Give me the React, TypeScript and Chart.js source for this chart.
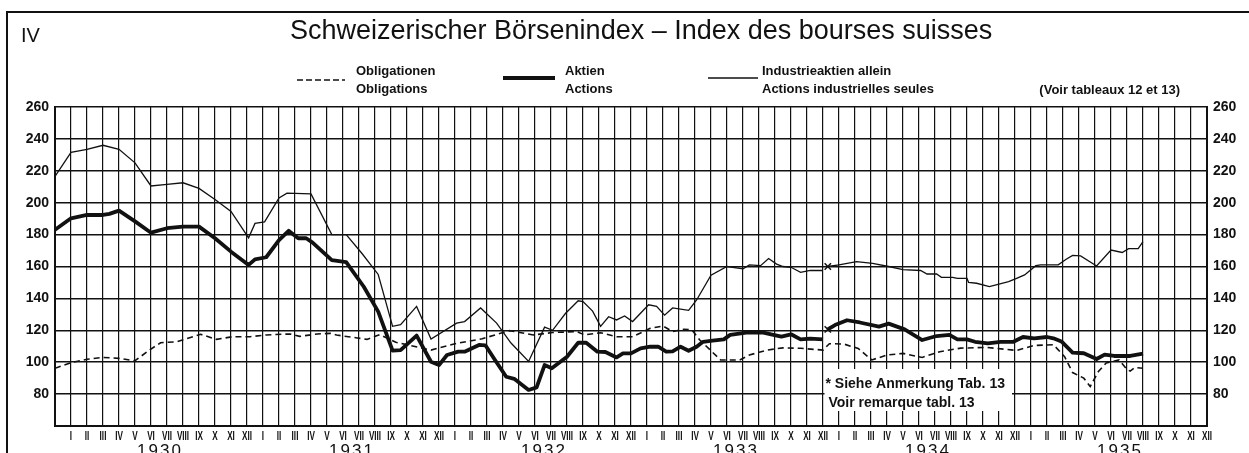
import React, { useEffect, useRef } from 'react';
import { Chart, registerables } from 'chart.js';

Chart.register(...registerables);

// ---- labels ----
const monthLabels = ['I', 'II', 'III', 'IV', 'V', 'VI', 'VII', 'VIII', 'IX', 'X', 'XI', 'XII'];
const yearLabels = ['1930', '1931', '1932', '1933', '1934', '1935'];
const titleText = 'Schweizerischer Börsenindex – Index des bourses suisses';
const sectionLabel = 'IV';
const legendObligDe = 'Obligationen';
const legendObligFr = 'Obligations';
const legendAktienDe = 'Aktien';
const legendAktienFr = 'Actions';
const legendIndDe = 'Industrieaktien allein';
const legendIndFr = 'Actions industrielles seules';
const sourceNote = '(Voir tableaux 12 et 13)';
const footNoteDe = '* Siehe Anmerkung Tab. 13';
const footNoteFr = 'Voir remarque tabl. 13';

// ---- data (time = months since end of 1929; null = series break, see note) ----
const industrieMonth = [0, 1, 2, 3, 4, 5, 6, 7, 8, 9, 10, 11, 12.1, 12.5, 13.1, 14, 14.5, 16, 17.3, 18.2, 19.2, 20.2, 21.1, 21.6, 22.6, 23.5, 25.1, 25.6, 26.6, 27.6, 28.5, 29.6, 30.6, 31.1, 31.9, 32.7, 33, 33.6, 34.1, 34.6, 35.1, 35.6, 36.1, 37.1, 37.6, 38.1, 38.6, 39.6, 40.1, 41, 42, 43, 43.4, 44.1, 44.6, 45.1, 45.5, 46, 46.6, 47.2, 48, 48.15, 48.3, 49, 50.1, 51.1, 52.1, 53, 54.1, 54.5, 55.1, 55.4, 56.1, 56.4, 57, 57.1, 57.6, 58.4, 59.6, 60.1, 60.6, 61.3, 61.6, 62.7, 63.2, 63.6, 64.1, 65.1, 66, 66.7, 67.1, 67.7, 68];
const industrieValue = [216.5, 231.5, 233.5, 236, 233.5, 225, 210.5, 211.5, 212.5, 209, 202, 194.5, 178, 187, 188, 203, 206, 205.5, 180, 180, 168, 155, 122.5, 123.5, 135, 114.5, 124.5, 125.5, 134, 124.5, 112, 100.5, 122, 120, 130.5, 138.5, 138, 132, 122.5, 128.5, 126.5, 129, 125.5, 136, 135, 129.5, 134, 132.5, 139, 154.5, 160, 158.5, 161, 160.5, 165, 161.5, 160, 159.5, 156.3, 157.5, 157.5, null, 160, 161, 163, 162, 160, 158, 157.5, 155.3, 155.3, 153.2, 153.2, 152.5, 152.5, 150, 149.5, 147.4, 150.5, 152.6, 154.7, 160.5, 161, 161, 164.5, 167, 166.6, 160.3, 170.3, 168.8, 171.2, 171.2, 175.6];

const aktienMonth = [0, 1, 2, 3, 3.4, 4, 5, 6, 7, 8, 9, 10, 11, 12.1, 12.5, 13.2, 14, 14.6, 15.2, 15.7, 16.1, 17.3, 18.2, 19.3, 20.2, 21.1, 21.6, 22.6, 23.5, 24, 24.5, 25.2, 25.6, 26.5, 26.9, 27.5, 28.2, 28.7, 29.6, 30.1, 30.6, 31.05, 32, 32.7, 33.2, 33.9, 34.4, 35.1, 35.5, 36, 36.6, 37.2, 37.7, 38.2, 38.6, 39.1, 39.6, 40.1, 40.5, 41.1, 41.8, 42.2, 43.2, 44.2, 44.9, 45.4, 46, 46.6, 47.2, 48, 48.15, 48.3, 48.75, 49.5, 50.3, 51.5, 52.1, 53.1, 54.2, 55.1, 55.9, 56.4, 57, 57.5, 58.3, 59.1, 59.9, 60.5, 61.2, 62, 62.4, 62.9, 63.6, 64.3, 65.1, 65.6, 66.2, 67.2, 68];
const aktienValue = [183, 190.2, 192.3, 192.3, 193, 195, 188.3, 181.2, 184, 185, 185, 177.7, 169.3, 161, 164.5, 165.8, 176.6, 182.4, 177.7, 177.7, 175, 164, 162.7, 147.3, 131.7, 107.3, 107.6, 116.7, 100.3, 98.2, 104.5, 106.6, 106.6, 110.8, 110.6, 101.4, 90.9, 89.6, 82.6, 84.2, 98.2, 96.2, 103.4, 112.2, 112.2, 106.6, 106.4, 103, 105.5, 105.5, 108.7, 109.7, 109.7, 106.6, 106.8, 109.7, 107.2, 109.7, 112.8, 113.5, 114.3, 117.1, 118.5, 118.7, 117.1, 116, 117.5, 114.3, 114.8, 114.3, null, 120.6, 123.3, 126.3, 124.9, 122.3, 124.2, 120.6, 113.9, 116.4, 117.1, 114.3, 114.3, 112.8, 111.8, 112.8, 112.8, 115.8, 115, 115.8, 115, 113, 106, 105.6, 102, 104.8, 103.9, 103.9, 105.3];

const obligMonth = [0, 1, 2, 3, 4, 5, 5.9, 6.6, 7.6, 9.1, 10.1, 11.1, 12.2, 13.2, 14.7, 15.3, 16.4, 17.2, 17.6, 18.9, 19.5, 20.3, 21.3, 23.5, 25.1, 26.7, 28.4, 29.9, 31.1, 32.6, 33.1, 34.1, 35.1, 36.1, 37.2, 38, 38.6, 39.3, 39.8, 40.3, 41.6, 42.8, 43.4, 44.5, 45.5, 46.6, 48, 48.4, 49.3, 50.2, 51.05, 52, 53, 54.2, 55.3, 56.6, 58.2, 60.1, 61.2, 62.4, 63.1, 63.6, 64.3, 64.7, 65.2, 65.7, 66.5, 67, 67.2, 67.5, 68];
const obligValue = [96.2, 99.7, 101.8, 103, 102.4, 100.9, 107.6, 112.2, 112.8, 117.5, 114.3, 116, 116, 117.1, 117.7, 116.2, 117.7, 118.1, 117, 115.2, 114.3, 117.3, 112.5, 107.6, 111.8, 114.7, 119.8, 117.1, 118.6, 119.2, 117.1, 118.5, 116, 116, 121.2, 122.7, 119.2, 120.6, 120.3, 113.9, 101.4, 101.4, 104.5, 107.6, 109, 108.7, 107.6, 111.6, 111.4, 108.6, 101.4, 104.5, 105.5, 103, 106.6, 108.8, 109.3, 107.4, 110.5, 111, 103.5, 93.5, 90, 84.8, 94, 99.5, 101.4, 95.5, 94.4, 96.7, 96.2];

const INK = '#111';
const SANS = "'Liberation Sans', Arial, sans-serif";

const toPoints = (months: number[], values: (number | null)[]) =>
  months.map((m, i) => ({ x: m, y: values[i] }));

const monthLabelFor = (n: number) => (n > 0 ? monthLabels[(n - 1) % 12] : '');

const decorPlugin = {
  id: 'decor',
  beforeDraw(chart: any) {
    const ctx = chart.ctx;
    ctx.save();
    ctx.fillStyle = '#fff';
    ctx.fillRect(0, 0, chart.width, chart.height);
    // page frame
    ctx.strokeStyle = INK;
    ctx.lineWidth = 2;
    ctx.beginPath();
    ctx.moveTo(7, chart.height);
    ctx.lineTo(7, 12);
    ctx.lineTo(chart.width, 12);
    ctx.stroke();
    ctx.restore();
  },
  beforeDatasetsDraw(chart: any) {
    const ctx = chart.ctx;
    const xs = chart.scales.x;
    const ys = chart.scales.y;
    const x0 = xs.getPixelForValue(48) + 1.5;
    const x1 = xs.getPixelForValue(60) - 3;
    const y0 = ys.getPixelForValue(95.7);
    const y1 = ys.getPixelForValue(69.4);
    ctx.save();
    ctx.fillStyle = '#fff';
    ctx.fillRect(x0, y0, x1 - x0, y1 - y0);
    ctx.fillStyle = INK;
    ctx.font = `bold 14px ${SANS}`;
    ctx.textBaseline = 'alphabetic';
    ctx.textAlign = 'left';
    ctx.fillText(footNoteDe, x0 + 1, y0 + 19);
    ctx.fillText(footNoteFr, x0 + 4, y0 + 38);
    ctx.restore();
  },
  afterDraw(chart: any) {
    const ctx = chart.ctx;
    const xs = chart.scales.x;
    ctx.save();
    ctx.fillStyle = INK;
    ctx.strokeStyle = INK;
    ctx.textBaseline = 'alphabetic';
    // section number + title
    ctx.textAlign = 'left';
    ctx.font = `20px ${SANS}`;
    ctx.fillText(sectionLabel, 21, 42);
    ctx.font = `27px ${SANS}`;
    ctx.fillText(titleText, 290, 39);
    // legend
    ctx.font = `bold 13px ${SANS}`;
    ctx.fillText(legendObligDe, 356, 75);
    ctx.fillText(legendObligFr, 356, 93);
    ctx.fillText(legendAktienDe, 565, 75);
    ctx.fillText(legendAktienFr, 565, 93);
    ctx.fillText(legendIndDe, 762, 75);
    ctx.fillText(legendIndFr, 762, 93);
    ctx.textAlign = 'right';
    ctx.fillText(sourceNote, 1180, 94);
    ctx.textAlign = 'left';
    // legend samples
    ctx.lineCap = 'butt';
    ctx.setLineDash([6, 3]);
    ctx.lineWidth = 1.6;
    ctx.beginPath(); ctx.moveTo(297, 80); ctx.lineTo(345, 80); ctx.stroke();
    ctx.setLineDash([]);
    ctx.lineWidth = 4;
    ctx.beginPath(); ctx.moveTo(503, 78); ctx.lineTo(555, 78); ctx.stroke();
    ctx.lineWidth = 1.3;
    ctx.beginPath(); ctx.moveTo(708, 78); ctx.lineTo(758, 78); ctx.stroke();
    // condensed month labels at the x-scale ticks
    ctx.font = `bold 12px ${SANS}`;
    ctx.textAlign = 'center';
    xs.ticks.forEach((t: any) => {
      const n = Math.round(t.value);
      const lbl = monthLabelFor(n);
      if (!lbl) return;
      const x = xs.getPixelForValue(n);
      ctx.save();
      ctx.translate(x, xs.top + 14);
      ctx.scale(0.68, 1);
      ctx.fillText(lbl, 0, 0);
      ctx.restore();
    });
    // year labels under the month labels
    ctx.font = `17px ${SANS}`;
    try { (ctx as any).letterSpacing = '2px'; } catch (e) { /* ignore */ }
    yearLabels.forEach((yr, k) => {
      const x = xs.getPixelForValue(6.5 + 12 * k);
      ctx.fillText(yr, x + 1, 456);
    });
    try { (ctx as any).letterSpacing = '0px'; } catch (e) { /* ignore */ }
    ctx.restore();
  },
};

export default function App() {
  const canvasRef = useRef<HTMLCanvasElement | null>(null);

  useEffect(() => {
    const canvas = canvasRef.current;
    if (!canvas) return;
    const indBreak = industrieValue.indexOf(null) + 1;
    const aktBreak = aktienValue.indexOf(null) + 1;

    const yTickFont = { family: SANS, size: 14, weight: 'bold' as const };
    const yTickCb = (v: any) => (Number(v) === 60 ? '' : String(v));

    const chart = new Chart(canvas, {
      type: 'line',
      data: {
        datasets: [
          {
            label: 'Obligationen',
            data: toPoints(obligMonth, obligValue) as any,
            borderColor: INK,
            borderWidth: 1.6,
            borderDash: [6, 4],
            pointRadius: 0,
            fill: false,
            tension: 0,
          },
          {
            label: 'Industrieaktien allein',
            data: toPoints(industrieMonth, industrieValue) as any,
            borderColor: INK,
            borderWidth: 1.3,
            pointStyle: 'crossRot',
            pointRadius: (c: any) => (c.dataIndex === indBreak ? 4.5 : 0),
            pointBorderWidth: 1.5,
            pointBorderColor: INK,
            pointBackgroundColor: INK,
            spanGaps: false,
            fill: false,
            tension: 0,
          },
          {
            label: 'Aktien',
            data: toPoints(aktienMonth, aktienValue) as any,
            borderColor: INK,
            borderWidth: 3.8,
            borderJoinStyle: 'round',
            pointStyle: 'crossRot',
            pointRadius: (c: any) => (c.dataIndex === aktBreak ? 4.5 : 0),
            pointBorderWidth: 1.5,
            pointBorderColor: INK,
            pointBackgroundColor: INK,
            spanGaps: false,
            fill: false,
            tension: 0,
          },
        ],
      },
      options: {
        animation: false,
        responsive: false,
        maintainAspectRatio: false,
        layout: { padding: { top: 107, left: 0, right: 0, bottom: 0 } },
        plugins: {
          legend: { display: false },
          title: { display: false },
          tooltip: { enabled: false },
        },
        scales: {
          x: {
            type: 'linear',
            position: 'bottom',
            min: 0,
            max: 72,
            ticks: {
              display: false,
              stepSize: 1,
              autoSkip: false,
              maxRotation: 0,
              minRotation: 0,
              callback: (v: any) => monthLabelFor(Math.round(Number(v))),
            },
            grid: { color: INK, lineWidth: 1.2, drawTicks: false },
            border: { display: true, color: INK, width: 2 },
            afterFit: (s: any) => { s.height = 27; },
          },
          y: {
            position: 'left',
            min: 60,
            max: 260,
            ticks: { stepSize: 20, padding: 6, color: INK, font: yTickFont, callback: yTickCb },
            grid: { color: INK, lineWidth: 1.5, drawTicks: false },
            border: { display: true, color: INK, width: 2 },
            afterFit: (s: any) => { s.width = 55; },
          },
          y2: {
            position: 'right',
            min: 60,
            max: 260,
            ticks: { stepSize: 20, padding: 6, color: INK, font: yTickFont, callback: yTickCb },
            grid: { display: false, drawTicks: false },
            border: { display: true, color: INK, width: 2 },
            afterFit: (s: any) => { s.width = 42; },
          },
        },
      } as any,
      plugins: [decorPlugin],
    });
    return () => chart.destroy();
  }, []);

  return (
    <div style={{ position: 'absolute', left: 0, top: 0, width: 1249, height: 453, background: '#fff', overflow: 'hidden' }}>
      <canvas ref={canvasRef} width={1249} height={453} style={{ display: 'block', width: 1249, height: 453 }} />
    </div>
  );
}
